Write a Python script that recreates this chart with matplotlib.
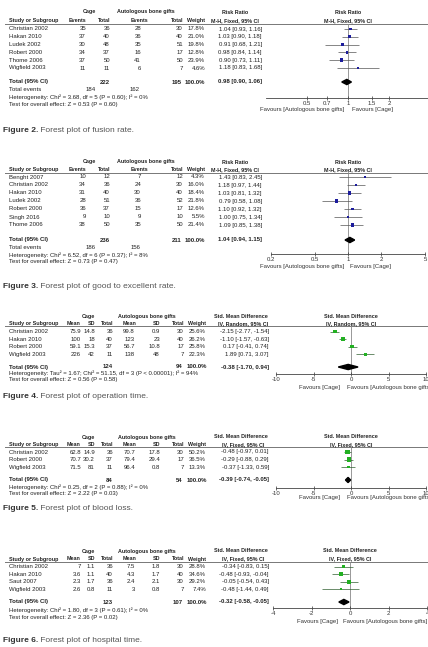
import matplotlib.pyplot as plt
from matplotlib.patches import Polygon
from matplotlib.transforms import offset_copy
from matplotlib.ticker import NullLocator
import numpy as np

plt.rcParams['font.family'] = ['Liberation Sans', 'DejaVu Sans']

W, H = 428, 647
TXT = '#222222'
FS = 4.3
HS = 3.9

# ---- Figure 2: fusion rate ----
f2_study = ['Christian 2002', 'Hakan 2010', 'Ludek 2002', 'Robert 2000', 'Thome 2006', 'Wigfield 2003']
f2_cage_ev = [35, 37, 30, 34, 37, 11]
f2_cage_n = [36, 40, 48, 37, 50, 11]
f2_aut_ev = [28, 36, 35, 16, 41, 6]
f2_aut_n = [30, 40, 51, 17, 50, 7]
f2_weight = [17.8, 21.0, 19.8, 12.8, 23.9, 4.6]
f2_rr = [1.04, 1.03, 0.91, 0.98, 0.90, 1.18]
f2_lo = [0.93, 0.90, 0.68, 0.84, 0.73, 0.83]
f2_hi = [1.16, 1.18, 1.21, 1.14, 1.11, 1.68]
f2_total = (222, 195, 0.98, 0.90, 1.06)
f2_events = (184, 162)
f2_het = 'Heterogeneity: Chi² = 3.68, df = 5 (P = 0.60); I² = 0%'
f2_z = 'Test for overall effect: Z = 0.53 (P = 0.60)'
f2_ticks = [0.5, 0.7, 1, 1.5, 2]

# ---- Figure 3: good to excellent rate ----
f3_study = ['Benght 2007', 'Christian 2002', 'Hakan 2010', 'Ludek 2002', 'Robert 2000', 'Singh 2016', 'Thome 2006']
f3_cage_ev = [10, 34, 31, 28, 36, 9, 38]
f3_cage_n = [12, 36, 40, 51, 37, 10, 50]
f3_aut_ev = [7, 24, 30, 36, 15, 9, 35]
f3_aut_n = [12, 30, 40, 52, 17, 10, 50]
f3_weight = [4.3, 16.0, 18.4, 21.8, 12.6, 5.5, 21.4]
f3_rr = [1.43, 1.18, 1.03, 0.79, 1.10, 1.00, 1.09]
f3_lo = [0.83, 0.97, 0.81, 0.58, 0.92, 0.75, 0.85]
f3_hi = [2.45, 1.44, 1.32, 1.08, 1.32, 1.34, 1.38]
f3_total = (236, 211, 1.04, 0.94, 1.15)
f3_events = (186, 156)
f3_het = 'Heterogeneity: Chi² = 6.52, df = 6 (P = 0.37); I² = 8%'
f3_z = 'Test for overall effect: Z = 0.73 (P = 0.47)'
f3_ticks = [0.2, 0.5, 1, 2, 5]

# ---- Figure 4: operation time ----
f4_study = ['Christian 2002', 'Hakan 2010', 'Robert 2000', 'Wigfield 2003']
f4_cage_mean = [75.9, 100, 59.1, 226]
f4_cage_sd = [14.8, 18, 15.3, 42]
f4_cage_n = [36, 40, 37, 11]
f4_aut_mean = [99.8, 123, 56.7, 138]
f4_aut_sd = [0.9, 23, 10.8, 48]
f4_aut_n = [30, 40, 17, 7]
f4_weight = [25.6, 26.2, 25.8, 22.3]
f4_smd = [-2.15, -1.10, 0.17, 1.89]
f4_lo = [-2.77, -1.57, -0.41, 0.71]
f4_hi = [-1.54, -0.63, 0.74, 3.07]
f4_total = (124, 94, -0.38, -1.70, 0.94)
f4_het = 'Heterogeneity: Tau² = 1.67; Chi² = 51.15, df = 3 (P < 0.00001); I² = 94%'
f4_z = 'Test for overall effect: Z = 0.56 (P = 0.58)'
f4_ticks = [-10, -5, 0, 5, 10]

# ---- Figure 5: blood loss ----
f5_study = ['Christian 2002', 'Robert 2000', 'Wigfield 2003']
f5_cage_mean = [62.8, 70.7, 71.5]
f5_cage_sd = [14.9, 30.2, 81]
f5_cage_n = [36, 37, 11]
f5_aut_mean = [70.7, 79.4, 96.4]
f5_aut_sd = [17.8, 29.4, 0.8]
f5_aut_n = [30, 17, 7]
f5_weight = [50.2, 36.5, 13.3]
f5_smd = [-0.48, -0.29, -0.37]
f5_lo = [-0.97, -0.88, -1.33]
f5_hi = [0.01, 0.29, 0.59]
f5_total = (84, 54, -0.39, -0.74, -0.05)
f5_het = 'Heterogeneity: Chi² = 0.25, df = 2 (P = 0.88); I² = 0%'
f5_z = 'Test for overall effect: Z = 2.22 (P = 0.03)'
f5_ticks = [-10, -5, 0, 5, 10]

# ---- Figure 6: hospital time ----
f6_study = ['Christian 2002', 'Hakan 2010', 'Saut 2007', 'Wigfield 2003']
f6_cage_mean = [7, 3.6, 2.3, 2.6]
f6_cage_sd = [1.1, 1.1, 1.7, 0.8]
f6_cage_n = [36, 40, 36, 11]
f6_aut_mean = [7.5, 4.3, 2.4, 3]
f6_aut_sd = [1.8, 1.7, 2.1, 0.8]
f6_aut_n = [30, 40, 30, 7]
f6_weight = [28.8, 34.6, 29.2, 7.4]
f6_smd = [-0.34, -0.48, -0.05, -0.48]
f6_lo = [-0.83, -0.93, -0.54, -1.44]
f6_hi = [0.15, -0.04, 0.43, 0.49]
f6_total = (123, 107, -0.32, -0.58, -0.05)
f6_het = 'Heterogeneity: Chi² = 1.80, df = 3 (P = 0.61); I² = 0%'
f6_z = 'Test for overall effect: Z = 2.36 (P = 0.02)'
f6_ticks = [-4, -2, 0, 2, 4]

fig = plt.figure(figsize=(W / 100, H / 100), dpi=100)
bg = fig.add_axes([0, 0, 1, 1])
bg.set_xlim(0, W)
bg.set_ylim(H, 0)
bg.axis('off')


def t(x, y, s, ha='left', bold=False, size=None, color=TXT):
    if size is None:
        size = HS if bold else FS
    return bg.text(x, y, s, ha=ha, va='center', fontsize=size,
                   fontweight='bold' if bold else 'normal', color=color)


def ci(e, l, h):
    return f'{e:.2f} [{l:.2f}, {h:.2f}]'


def caption(y, num, rest):
    a = bg.text(3, y, f'Figure {num}.', ha='left', va='center', fontsize=6.0,
                fontweight='bold', color='#333333')
    bg.annotate(' ' + rest, xy=(1, 0), xycoords=a, ha='left', va='bottom',
                fontsize=6.0, color='#555555')


def forest(lay, est, lo, hi, wts, total, ticks, log, color, lcolor, labels):
    x0, x1 = lay['px']
    ytop, yax = lay['line'], lay['axis']
    a = fig.add_axes([x0 / W, 1 - yax / H, (x1 - x0) / W, (yax - ytop) / H])
    if log:
        a.set_xscale('log')
    a.set_xlim(*lay['xlim'])
    a.set_ylim(yax, ytop)
    a.patch.set_alpha(0)
    for s in ['top', 'left', 'right']:
        a.spines[s].set_visible(False)
    a.spines['bottom'].set_color('#444444')
    a.spines['bottom'].set_linewidth(0.6)
    a.set_yticks([])
    a.set_xticks(ticks, labels=[f'{v:g}' for v in ticks])
    a.xaxis.set_minor_locator(NullLocator())
    a.tick_params(axis='x', direction='inout', length=3, width=0.5, pad=1,
                  labelsize=4.3, colors='#333333')
    null = 1 if log else 0
    a.axvline(null, color='#888888', lw=0.6, zorder=1)
    ys = [lay['y0'] + i * lay['step'] for i in range(len(est))]
    a.hlines(ys, lo, hi, color=lcolor, lw=0.5, zorder=2)
    sizes = (0.7 * np.sqrt(np.array(wts)) * 0.72) ** 2
    a.scatter(est, ys, s=sizes, marker='s', color=color, linewidths=0, zorder=3)
    e, l, h = total
    ty = lay['tot']
    a.add_patch(Polygon([(l, ty), (e, ty - 2.6), (h, ty), (e, ty + 2.6)],
                        closed=True, color='black', zorder=3))
    left_tr = offset_copy(a.transData, fig=fig, x=-lay['fav'][0], y=0, units='dots')
    right_tr = offset_copy(a.transData, fig=fig, x=lay['fav'][1], y=0, units='dots')
    a.text(null, lay['favy'], labels[0], ha='right', va='center', fontsize=FS,
           color='#333333', transform=left_tr, clip_on=False)
    a.text(null, lay['favy'], labels[1], ha='left', va='center', fontsize=FS,
           color='#333333', transform=right_tr, clip_on=False)
    xc = (x0 + x1) / 2
    t(xc, lay['h1'], lay['fh'][0], ha='center', bold=True)
    t(xc, lay['h2'], lay['fh'][1], ha='center', bold=True)
    return ys


def header_line(y):
    bg.plot([5, W], [y, y], color='#777777', lw=0.7)


def dich_panel(lay, study, cev, cn, aev, an, wts, rr, lo, hi, total, events, het, z, ticks, fh):
    t(89, lay['h1'], 'Cage', ha='center', bold=True)
    t(146, lay['h1'], 'Autologous bone gifts', ha='center', bold=True)
    t(235, lay['h1'], fh[0], ha='center', bold=True)
    t(9, lay['h2'], 'Study or Subgroup', bold=True)
    t(86, lay['h2'], 'Events', ha='right', bold=True)
    t(110, lay['h2'], 'Total', ha='right', bold=True)
    t(148, lay['h2'], 'Events', ha='right', bold=True)
    t(183, lay['h2'], 'Total', ha='right', bold=True)
    t(205, lay['h2'], 'Weight', ha='right', bold=True)
    t(235, lay['h2'], fh[1], ha='center', bold=True)
    header_line(lay['line'])
    ys = forest(lay, rr, lo, hi, wts, total[2:], ticks, True, '#1c1c9c', '#555555',
                ('Favours [Autologous bone gifts]', 'Favours [Cage]'))
    for i, y in enumerate(ys):
        t(9, y, study[i])
        t(86, y, str(cev[i]), ha='right')
        t(110, y, str(cn[i]), ha='right')
        t(141, y, str(aev[i]), ha='right')
        t(183, y, str(an[i]), ha='right')
        t(205, y, f'{wts[i]:.1f}%', ha='right')
        t(262, y, ci(rr[i], lo[i], hi[i]), ha='right')
    ty = lay['tot']
    t(9, ty, 'Total (95% CI)', bold=True, size=FS)
    t(110, ty, str(total[0]), ha='right', bold=True, size=FS)
    t(182, ty, str(total[1]), ha='right', bold=True, size=FS)
    t(205, ty, '100.0%', ha='right', bold=True, size=FS)
    t(262, ty, ci(*total[2:]), ha='right', bold=True, size=FS)
    t(9, lay['ev'], 'Total events')
    t(96, lay['ev'], str(events[0]), ha='right')
    t(140, lay['ev'], str(events[1]), ha='right')
    t(9, lay['het'], het)
    t(9, lay['z'], z)


def cont_panel(lay, study, cm, csd, cn, am, asd, an, wts, smd, lo, hi, total, het, z, ticks, method):
    t(88, lay['h1'], 'Cage', ha='center', bold=True)
    t(147, lay['h1'], 'Autologous bone gifts', ha='center', bold=True)
    t(241, lay['h1'], 'Std. Mean Difference', ha='center', bold=True)
    t(9, lay['h2'], 'Study or Subgroup', bold=True)
    for x, s in [(81, 'Mean'), (95, 'SD'), (113, 'Total'), (137, 'Mean'),
                 (160, 'SD'), (184, 'Total'), (206, 'Weight')]:
        t(x, lay['h2'], s, ha='right', bold=True)
    t(243, lay['h2'], method, ha='center', bold=True)
    header_line(lay['line'])
    lay['fh'] = ('Std. Mean Difference', method)
    ys = forest(lay, smd, lo, hi, wts, total[2:], ticks, False, '#22b022', '#2f5f2f',
                ('Favours [Cage]', 'Favours [Autologous bone gifts]'))
    for i, y in enumerate(ys):
        t(9, y, study[i])
        t(81, y, f'{cm[i]:g}', ha='right')
        t(95, y, f'{csd[i]:g}', ha='right')
        t(113, y, str(cn[i]), ha='right')
        t(135, y, f'{am[i]:g}', ha='right')
        t(160, y, f'{asd[i]:g}', ha='right')
        t(184, y, str(an[i]), ha='right')
        t(206, y, f'{wts[i]:.1f}%', ha='right')
        t(269, y, ci(smd[i], lo[i], hi[i]), ha='right')
    ty = lay['tot']
    t(9, ty, 'Total (95% CI)', bold=True, size=FS)
    t(113, ty, str(total[0]), ha='right', bold=True, size=FS)
    t(183, ty, str(total[1]), ha='right', bold=True, size=FS)
    t(207, ty, '100.0%', ha='right', bold=True, size=FS)
    t(269, ty, ci(*total[2:]), ha='right', bold=True, size=FS)
    t(9, lay['het'], het)
    t(9, lay['z'], z)


lay2 = dict(h1=12, h2=20.5, line=23.5, y0=29, step=7.8, tot=82, ev=89.5, het=97, z=104.5,
            axis=97.5, favy=109.5, px=(266, 430), xlim=(0.25, 4), fav=(4, 4),
            fh=('Risk Ratio', 'M-H, Fixed, 95% CI'))
dich_panel(lay2, f2_study, f2_cage_ev, f2_cage_n, f2_aut_ev, f2_aut_n, f2_weight,
           f2_rr, f2_lo, f2_hi, f2_total, f2_events, f2_het, f2_z, f2_ticks, lay2['fh'])
caption(131, 2, 'Forest plot of fusion rate.')

lay3 = dict(h1=162, h2=169.5, line=172.5, y0=177, step=8, tot=240, ev=247.5, het=255, z=262,
            axis=254, favy=267, px=(271, 425), xlim=(0.2, 5), fav=(4, 2),
            fh=('Risk Ratio', 'M-H, Fixed, 95% CI'))
dich_panel(lay3, f3_study, f3_cage_ev, f3_cage_n, f3_aut_ev, f3_aut_n, f3_weight,
           f3_rr, f3_lo, f3_hi, f3_total, f3_events, f3_het, f3_z, f3_ticks, lay3['fh'])
caption(287, 3, 'Forest plot of good to excellent rate.')

lay4 = dict(h1=316.5, h2=323.5, line=326, y0=331.5, step=7.6, tot=367, het=373.5, z=380,
            axis=374, favy=388, px=(276, 426), xlim=(-10, 10), fav=(11, -4))
cont_panel(lay4, f4_study, f4_cage_mean, f4_cage_sd, f4_cage_n, f4_aut_mean, f4_aut_sd,
           f4_aut_n, f4_weight, f4_smd, f4_lo, f4_hi, f4_total, f4_het, f4_z, f4_ticks,
           'IV, Random, 95% CI')
caption(397, 4, 'Forest plot of operation time.')

lay5 = dict(h1=437, h2=444.5, line=447, y0=452, step=7.6, tot=480, het=487, z=493.5,
            axis=488, favy=498, px=(276, 426), xlim=(-10, 10), fav=(11, -4))
cont_panel(lay5, f5_study, f5_cage_mean, f5_cage_sd, f5_cage_n, f5_aut_mean, f5_aut_sd,
           f5_aut_n, f5_weight, f5_smd, f5_lo, f5_hi, f5_total, f5_het, f5_z, f5_ticks,
           'IV, Fixed, 95% CI')
caption(508, 5, 'Forest plot of blood loss.')

lay6 = dict(h1=551, h2=559, line=561.5, y0=566.5, step=7.6, tot=602, het=610, z=618,
            axis=608, favy=622, px=(273, 427), xlim=(-4, 4), fav=(12, -7))
cont_panel(lay6, f6_study, f6_cage_mean, f6_cage_sd, f6_cage_n, f6_aut_mean, f6_aut_sd,
           f6_aut_n, f6_weight, f6_smd, f6_lo, f6_hi, f6_total, f6_het, f6_z, f6_ticks,
           'IV, Fixed, 95% CI')
caption(640, 6, 'Forest plot of hospital time.')

fig.savefig('out.png', dpi=100)
